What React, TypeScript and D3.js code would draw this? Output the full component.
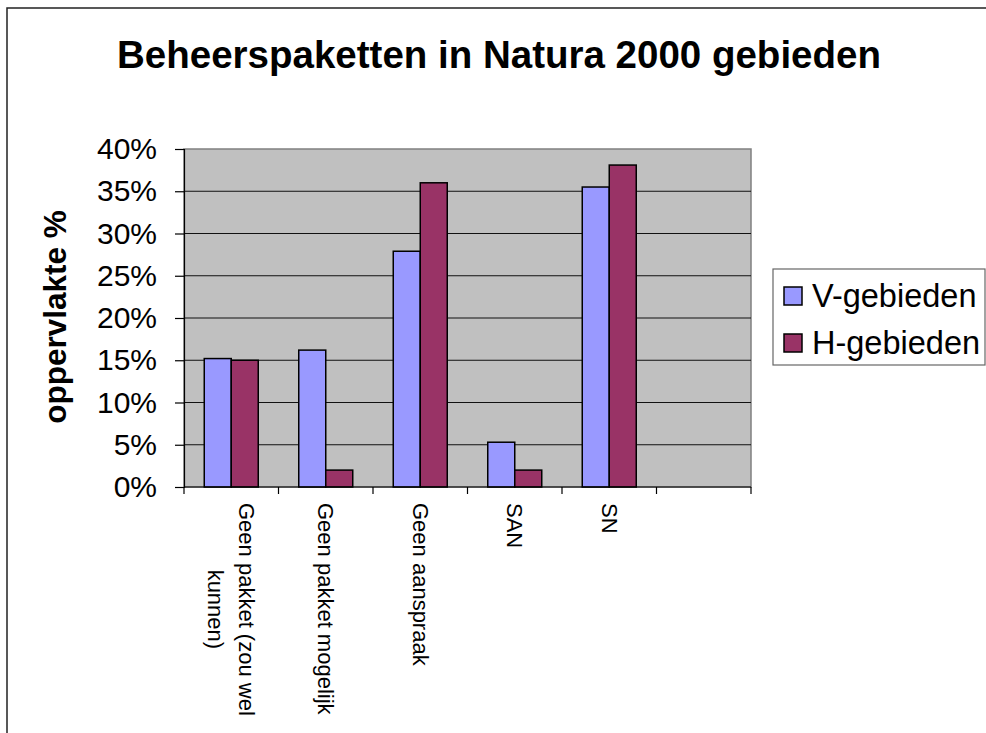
import * as d3 from 'd3';
import { useEffect, useRef } from 'react';

const categories = [
  ['Geen pakket (zou wel', 'kunnen)'],
  ['Geen pakket mogelijk'],
  ['Geen aanspraak'],
  ['SAN'],
  ['SN'],
  [''],
];
const seriesNames = ['V-gebieden', 'H-gebieden'];
const vGebieden = [15.2, 16.2, 27.9, 5.3, 35.5, null];
const hGebieden = [15.0, 2.0, 36.0, 2.0, 38.1, null];
const yTicks = [0, 5, 10, 15, 20, 25, 30, 35, 40];
const colors = ['#9999FF', '#993366'];

const FONT = '"Liberation Sans", Arial, Helvetica, sans-serif';

const App = () => {
  const ref = useRef<SVGSVGElement>(null);

  useEffect(() => {
    const svg = d3.select(ref.current);
    svg.selectAll('*').remove();

    const plot = { left: 184, right: 751, top: 149, bottom: 487 };

    // outer frame (right/bottom edges fall outside the picture)
    svg.append('rect')
      .attr('x', 7).attr('y', 8).attr('width', 1100).attr('height', 900)
      .attr('fill', '#fff').attr('stroke', '#222').attr('stroke-width', 1.5);

    // scales
    const x = d3.scaleBand<number>()
      .domain(d3.range(categories.length))
      .range([plot.left, plot.right]);
    const xInner = d3.scaleBand<number>()
      .domain([0, 1])
      .range([0, x.bandwidth()])
      .paddingOuter(0.75);
    const y = d3.scaleLinear().domain([0, 40]).range([plot.bottom, plot.top]);

    // plot background
    svg.append('rect')
      .attr('x', plot.left).attr('y', plot.top)
      .attr('width', plot.right - plot.left).attr('height', plot.bottom - plot.top)
      .attr('fill', '#C0C0C0').attr('stroke', '#808080').attr('stroke-width', 1.5);

    // gridlines
    svg.append('g').selectAll('line')
      .data(yTicks.filter(t => t > 0 && t < 40))
      .enter().append('line')
      .attr('x1', plot.left).attr('x2', plot.right)
      .attr('y1', d => y(d)).attr('y2', d => y(d))
      .attr('stroke', '#111').attr('stroke-width', 1);

    // bars
    const series = [vGebieden, hGebieden];
    series.forEach((vals, si) => {
      svg.append('g').selectAll('rect')
        .data(vals.map((v, i) => ({ v, i })).filter(d => d.v !== null))
        .enter().append('rect')
        .attr('x', d => (x(d.i) as number) + (xInner(si) as number))
        .attr('y', d => y(d.v as number))
        .attr('width', xInner.bandwidth())
        .attr('height', d => plot.bottom - y(d.v as number))
        .attr('fill', colors[si])
        .attr('stroke', '#000').attr('stroke-width', 1.5);
    });

    // y axis
    const yAxis = d3.axisLeft(y).tickValues(yTicks).tickSize(9).tickPadding(18)
      .tickFormat(d => `${d}%`);
    const yg = svg.append('g')
      .attr('transform', `translate(${plot.left}, 0)`)
      .call(yAxis);
    yg.select('.domain').attr('stroke', '#000').attr('stroke-width', 1.2);
    yg.selectAll('.tick line').attr('stroke', '#000').attr('stroke-width', 1.2);
    yg.selectAll('.tick text')
      .attr('font-family', FONT).attr('font-size', 30).attr('fill', '#000');

    // x axis: ticks at category boundaries
    const xg = svg.append('g');
    xg.append('line')
      .attr('x1', plot.left).attr('x2', plot.right)
      .attr('y1', plot.bottom).attr('y2', plot.bottom)
      .attr('stroke', '#000').attr('stroke-width', 1.2);
    xg.selectAll('line.tick')
      .data(d3.range(categories.length + 1))
      .enter().append('line')
      .attr('class', 'tick')
      .attr('x1', i => plot.left + i * x.step()).attr('x2', i => plot.left + i * x.step())
      .attr('y1', plot.bottom).attr('y2', plot.bottom + 7)
      .attr('stroke', '#000').attr('stroke-width', 1.2);

    // category labels, rotated, lines centred on the longest one
    const labelTop = 503;
    const lineH = 31;
    categories.forEach((lines, i) => {
      if (!lines[0]) return;
      const cx = (x(i) as number) + x.bandwidth() / 2;
      const g = svg.append('g')
        .attr('transform', `translate(${cx}, ${labelTop}) rotate(90)`);
      const texts = lines.map((ln, li) =>
        g.append('text')
          .attr('y', (li - (lines.length - 1) / 2) * lineH)
          .attr('dy', '0.35em')
          .attr('text-anchor', 'middle')
          .attr('font-family', FONT).attr('font-size', 22).attr('fill', '#000')
          .text(ln));
      const maxLen = d3.max(texts, t => (t.node() as SVGTextElement).getComputedTextLength()) || 0;
      texts.forEach(t => t.attr('x', maxLen / 2));
    });

    // title
    svg.append('text')
      .attr('x', 499).attr('y', 68)
      .attr('text-anchor', 'middle')
      .attr('font-family', FONT).attr('font-weight', 'bold').attr('font-size', 38.5)
      .text('Beheerspaketten in Natura 2000 gebieden');

    // y axis title
    svg.append('text')
      .attr('transform', 'translate(55, 317) rotate(-90)')
      .attr('dy', '0.35em')
      .attr('text-anchor', 'middle')
      .attr('font-family', FONT).attr('font-weight', 'bold').attr('font-size', 31.5)
      .text('oppervlakte %');

    // legend
    const lg = svg.append('g');
    lg.append('rect')
      .attr('x', 773).attr('y', 269).attr('width', 212).attr('height', 96)
      .attr('fill', '#fff').attr('stroke', '#666').attr('stroke-width', 1.2);
    seriesNames.forEach((name, i) => {
      const cy = 296 + i * 47;
      lg.append('rect')
        .attr('x', 784).attr('y', cy - 9).attr('width', 18).attr('height', 18)
        .attr('fill', colors[i]).attr('stroke', '#000').attr('stroke-width', 1.5);
      lg.append('text')
        .attr('x', 812).attr('y', cy).attr('dy', '0.35em')
        .attr('font-family', FONT).attr('font-size', 32.5).attr('fill', '#000')
        .text(name);
    });
  }, []);

  return (
    <svg
      ref={ref}
      width={986}
      height={733}
      style={{ position: 'fixed', left: 0, top: 0, background: '#fff' }}
    />
  );
};

export default App;
